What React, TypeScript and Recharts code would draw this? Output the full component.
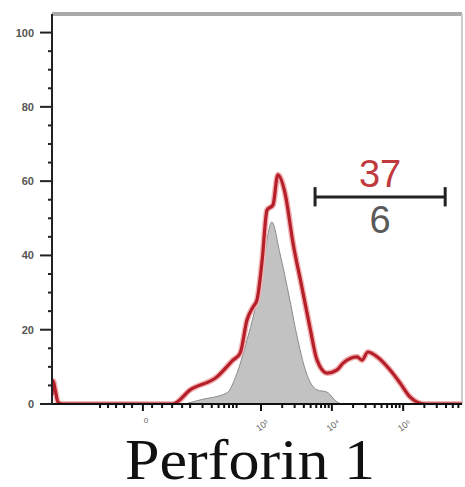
import React from "react";
import { ComposedChart, Line, Area, XAxis, YAxis, ReferenceLine, Label } from "recharts";

// Histogram channels (0..1024 display scale) and counts (% of max)
const redChannel = [0, 3, 8, 15, 27, 302, 345, 412, 452, 470, 487, 502, 512, 525, 537, 552, 564, 582, 602, 624, 644, 662, 687, 712, 727, 762, 774, 789, 812, 844, 869, 894, 912, 932, 1024];
const redCount = [2.4, 6.2, 3.8, 0.5, 0, 0, 3.8, 7.3, 11.8, 13.7, 22.6, 26.1, 28, 38.8, 52.2, 53.6, 61.7, 56.8, 43.3, 31.5, 20.7, 11.8, 8.3, 9.2, 11, 12.7, 11.8, 14, 12.7, 9.2, 5.7, 1.9, 0.5, 0, 0];

const grayChannel = [332, 370, 437, 462, 487, 512, 527, 539, 549, 569, 594, 614, 637, 662, 687, 712, 724];
const grayCount = [0, 1.1, 3, 8.3, 17.2, 28, 36.9, 45.5, 49, 40.7, 28, 17.2, 7.8, 3.8, 3.2, 0.5, 0];

// Axis ticks
const yTicks = [0, 5, 10, 15, 20, 25, 30, 35, 40, 45, 50, 55, 60, 65, 70, 75, 80, 85, 90, 95, 100];
const yLabelled = [0, 20, 40, 60, 80, 100];
const xMajorTicks = [227, 522, 699, 877];
const xMajorLabels = ["0", "10³", "10⁴", "10⁵"];
const xMinorTicks = [120, 140, 160, 180, 200, 250, 275, 300, 325, 345, 376, 399, 416, 430, 442, 452, 461, 575, 606, 629, 646, 660, 672, 682, 691, 752, 783, 806, 823, 837, 849, 859, 868, 930, 961, 984, 1001, 1015];

// Marker gate
const gateStart = 657;
const gateEnd = 982;
const gateLevel = 55.7;
const gateCapLow = 53.2;
const gateCapHigh = 58.4;
const redPercent = "37";
const grayPercent = "6";
const title = "Perforin 1";

const redData = redChannel.map((ch, i) => ({ ch, v: redCount[i] }));
const grayData = grayChannel.map((ch, i) => ({ ch, v: grayCount[i] }));
const xTicks = [...xMajorTicks, ...xMinorTicks].sort((a, b) => a - b);

const YTick = (props: any) => {
  const { x, y, payload } = props;
  const major = yLabelled.includes(payload.value);
  return (
    <g>
      <line x1={x} x2={x - (major ? 12 : 4)} y1={y} y2={y} stroke="#222" strokeWidth={2} />
      {major && (
        <text x={x - 18} y={y} dy={4} textAnchor="end" fontSize={11} fontFamily="Liberation Sans, Arial" fill="#555" fontWeight="bold">
          {payload.value}
        </text>
      )}
    </g>
  );
};

const XTick = (props: any) => {
  const { x, y, payload } = props;
  const idx = xMajorTicks.indexOf(payload.value);
  const major = idx >= 0;
  const ly = idx === 0 ? y + 19 : y + 24;
  return (
    <g>
      <line x1={x} x2={x} y1={y} y2={y + (major ? 7 : 4)} stroke="#111" strokeWidth={2} />
      {major && (
        <text
          x={x + 3}
          y={ly}
          textAnchor="middle"
          fontSize={idx === 0 ? 8 : 9}
          fontFamily="Liberation Sans, Arial"
          fill="#666"
          transform={idx === 0 ? undefined : `rotate(-35 ${x + 3} ${ly})`}
        >
          {xMajorLabels[idx]}
        </text>
      )}
    </g>
  );
};

const TitleLabel = () => (
  <text
    x={250}
    y={479}
    textAnchor="middle"
    fontSize={58}
    fontFamily="Liberation Serif, Times New Roman, serif"
    fill="#111"
    textLength={250}
    lengthAdjust="spacingAndGlyphs"
  >
    {title}
  </text>
);

export default function App() {
  return (
    <div style={{ position: "absolute", left: 0, top: 0, width: 465, height: 487, background: "#fff" }}>
      <ComposedChart width={465} height={487} margin={{ top: 14, right: 3, bottom: 0, left: 0 }}>
        <XAxis
          dataKey="ch"
          type="number"
          domain={[0, 1024]}
          allowDataOverflow
          ticks={xTicks}
          interval={0}
          tick={<XTick />}
          tickLine={false}
          tickSize={0}
          tickMargin={0}
          height={83}
          axisLine={{ stroke: "#111", strokeWidth: 2 }}
          label={<TitleLabel />}
        />
        <YAxis
          type="number"
          domain={[0, 105]}
          allowDataOverflow
          ticks={yTicks}
          interval={0}
          tick={<YTick />}
          tickLine={false}
          tickSize={0}
          tickMargin={0}
          width={52}
          axisLine={{ stroke: "#222", strokeWidth: 2 }}
        />
        <ReferenceLine y={105} stroke="#aaa" strokeWidth={4} ifOverflow="visible" />
        <ReferenceLine x={1024} stroke="#ccc" strokeWidth={2} ifOverflow="visible" />
        <Area
          data={grayData}
          dataKey="v"
          type="monotone"
          fill="#c2c2c2"
          fillOpacity={1}
          stroke="#8c8c8c"
          strokeWidth={1}
          isAnimationActive={false}
          dot={false}
          activeDot={false}
        />
        <Line
          data={redData}
          dataKey="v"
          type="monotone"
          stroke="#f2b5b5"
          strokeWidth={6}
          isAnimationActive={false}
          dot={false}
          activeDot={false}
        />
        <Line
          data={redData}
          dataKey="v"
          type="monotone"
          stroke="#b51f2a"
          strokeWidth={3.2}
          isAnimationActive={false}
          dot={false}
          activeDot={false}
        />
        <ReferenceLine
          segment={[{ x: gateStart, y: gateLevel }, { x: gateEnd, y: gateLevel }]}
          stroke="#222"
          strokeWidth={3}
        >
          <Label value={redPercent} position="top" offset={10} fontSize={38} fill="#c0393e" fontFamily="Liberation Sans, Arial" />
          <Label value={grayPercent} position="bottom" offset={9} fontSize={38} fill="#5a5a5a" fontFamily="Liberation Sans, Arial" />
        </ReferenceLine>
        <ReferenceLine segment={[{ x: gateStart, y: gateCapLow }, { x: gateStart, y: gateCapHigh }]} stroke="#222" strokeWidth={3} />
        <ReferenceLine segment={[{ x: gateEnd, y: gateCapLow }, { x: gateEnd, y: gateCapHigh }]} stroke="#222" strokeWidth={3} />
      </ComposedChart>
    </div>
  );
}
